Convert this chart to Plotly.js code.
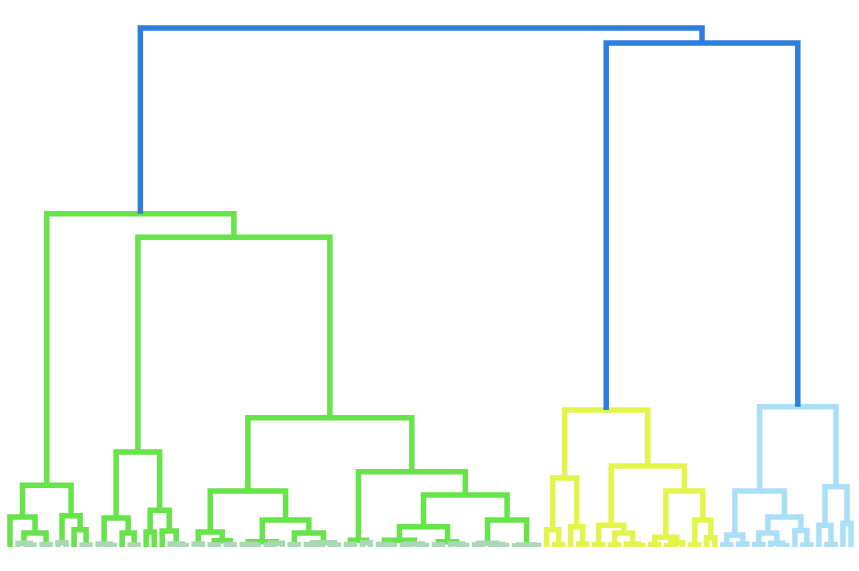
<!DOCTYPE html>
<html>
<head>
<meta charset="utf-8">
<script src="https://cdn.plot.ly/plotly-3.0.1.min.js"></script>
<style>html,body{margin:0;padding:0;background:#fff;}</style>
</head>
<body>
<div id="chart" style="width:859px;height:571px;"></div>
<script>
// Dendrogram data: each internal node = [left, right, mergeHeight]; a leaf = 0.
// ---- green cluster ----
const greenA1  = [0, [[0, [0, 0, 0.04], 0.07], [0, 0, 0.05], 0.27], 0.58];
const greenA2  = [[0, 0, 0.08], [0, [0, 0, 0.04], 0.33], 0.60];
const greenB1a = [[0, [0, 0, 0.03], 0.06], [0, [0, 0, 0.04], 0.27], 0.56];
const greenB1b = [[0, 0, 0.29], [0, [0, [0, 0, 0.03], 0.06], 0.31], 0.71];
const greenB2a1 = [[0, 0, 0.06], [[0, 0, 0.04], [0, 0, 0.05], 0.12], 0.29];
const greenB2a2l = [[0, [0, 0, 0.03], 0.05], [[0, 0, 0.04], 0, 0.07], 0.10];
const greenB2a2r = [[0, 0, 0.05], [[0, [0, 0, 0.03], 0.05], [0, 0, 0.04], 0.08], 0.27];
const greenB2b1 = [[0, 0, 0.05], [0, 0, 0.08], 0.13];
const greenB2b2a = [[[0, [0, 0, 0.03], 0.05], [[0, 0, 0.04], [0, 0, 0.03], 0.06], 0.13],
                    [[0, 0, 0.04], [0, [0, 0, 0.03], 0.06], 0.10], 0.39];
const greenB2b2b = [[[0, 0, 0.04], [0, [0, 0, 0.03], 0.05], 0.07],
                    [[0, 0, 0.02], [0, 0, 0.03], 0.04], 0.52];
const greenMergeHeights = [1.19, 1.83, 1.08, 0.52, 1.00, 1.45, 2.49, 5.97, 6.42];
// ---- yellow cluster ----
const yellowY1a = [0, [0, 0, 0.05], 0.33];
const yellowY1b = [0, [0, 0, 0.06], 0.39];
const yellowY2a = [[0, 0, 0.05], [[0, 0, 0.04], [0, [0, 0, 0.03], 0.06], 0.27], 0.42];
const yellowY2b1 = [[0, 0, 0.05], [[0, 0, 0.03], 0, 0.08], 0.19];
const yellowY2b2 = [[0, 0, 0.04], [0, 0, 0.18], 0.52];
const yellowMergeHeights = [1.33, 1.08, 1.56, 2.64];
// ---- light blue cluster ----
const blueL1a = [[0, 0, 0.04], [0, 0, 0.06], 0.23];
const blueL1bl = [[0, 0, 0.05], [0, [0, 0, 0.03], 0.07], 0.27];
const blueL1br = [0, [0, 0, 0.04], 0.32];
const blueL2a = [0, [0, 0, 0.05], 0.42];
const blueL2b = [0, 0, 0.46];
const blueMergeHeights = [0.58, 1.08, 1.16, 2.70];
// ---- links above the colour threshold ----
const upperMergeHeights = [9.71, 10.0];

const clusterColors = ['#66e44a', '#e3f54b', '#aadff8'];
const smallLinkColor = '#a9d9b4';
const aboveColor = '#2e7ddf';
const smallLinkHeight = 0.1;

// assemble trees
const gH = greenMergeHeights;
const greenA = [greenA1, greenA2, gH[0]];
const greenB1 = [greenB1a, greenB1b, gH[1]];
const greenB2a = [greenB2a1, [greenB2a2l, greenB2a2r, gH[3]], gH[2]];
const greenB2b = [greenB2b1, [greenB2b2a, greenB2b2b, gH[4]], gH[5]];
const greenTree = [greenA, [greenB1, [greenB2a, greenB2b, gH[6]], gH[7]], gH[8]];
const yH = yellowMergeHeights;
const yellowTree = [[yellowY1a, yellowY1b, yH[0]], [yellowY2a, [yellowY2b1, yellowY2b2, yH[1]], yH[2]], yH[3]];
const bH = blueMergeHeights;
const blueTree = [[blueL1a, [blueL1bl, blueL1br, bH[0]], bH[1]], [blueL2a, blueL2b, bH[2]], bH[3]];

const segs = {};
function addLink(color, xs, ys) {
  if (!segs[color]) segs[color] = {x: [], y: []};
  segs[color].x.push(...xs, null);
  segs[color].y.push(...ys, null);
}
let leafCounter = 0;
function layoutNode(node, color) {
  if (!Array.isArray(node)) {
    const x = 5 + 10 * leafCounter;
    leafCounter++;
    return {x: x, h: 0};
  }
  const L = layoutNode(node[0], color);
  const R = layoutNode(node[1], color);
  const h = node[2];
  const c = (color === clusterColors[0] && h < smallLinkHeight) ? smallLinkColor : color;
  addLink(c, [L.x, L.x, R.x, R.x], [L.h, h, h, R.h]);
  return {x: (L.x + R.x) / 2, h: h};
}
const gRes = layoutNode(greenTree, clusterColors[0]);
const yRes = layoutNode(yellowTree, clusterColors[1]);
const bRes = layoutNode(blueTree, clusterColors[2]);
const rightX = (yRes.x + bRes.x) / 2;
addLink(aboveColor, [yRes.x, yRes.x, bRes.x, bRes.x], [yRes.h, upperMergeHeights[0], upperMergeHeights[0], bRes.h]);
addLink(aboveColor, [gRes.x, gRes.x, rightX, rightX], [gRes.h, upperMergeHeights[1], upperMergeHeights[1], upperMergeHeights[0]]);

const order = [clusterColors[0], smallLinkColor, clusterColors[1], clusterColors[2], aboveColor];
const traces = order.filter(c => segs[c]).map(c => ({
  type: 'scatter', mode: 'lines', x: segs[c].x, y: segs[c].y,
  line: {color: c, width: 5.5}, hoverinfo: 'skip', showlegend: false
}));

const nLeaves = leafCounter;
const firstX = 5, lastX = 5 + 10 * (nLeaves - 1);
const pxFirst = 10, pxLast = 851, W = 859;
const k = (pxLast - pxFirst) / (lastX - firstX);
const x0 = firstX - pxFirst / k;
const x1 = x0 + W / k;

const layout = {
  width: 859, height: 571,
  margin: {l: 0, r: 0, t: 0, b: 24, pad: 0},
  paper_bgcolor: '#ffffff', plot_bgcolor: '#ffffff',
  showlegend: false,
  xaxis: {range: [x0, x1], visible: false, showgrid: false, zeroline: false, fixedrange: true},
  yaxis: {range: [0, 10 * 547 / 519], visible: false, showgrid: false, zeroline: false, fixedrange: true}
};
Plotly.newPlot('chart', traces, layout, {displayModeBar: false, staticPlot: true});
</script>
</body>
</html>
